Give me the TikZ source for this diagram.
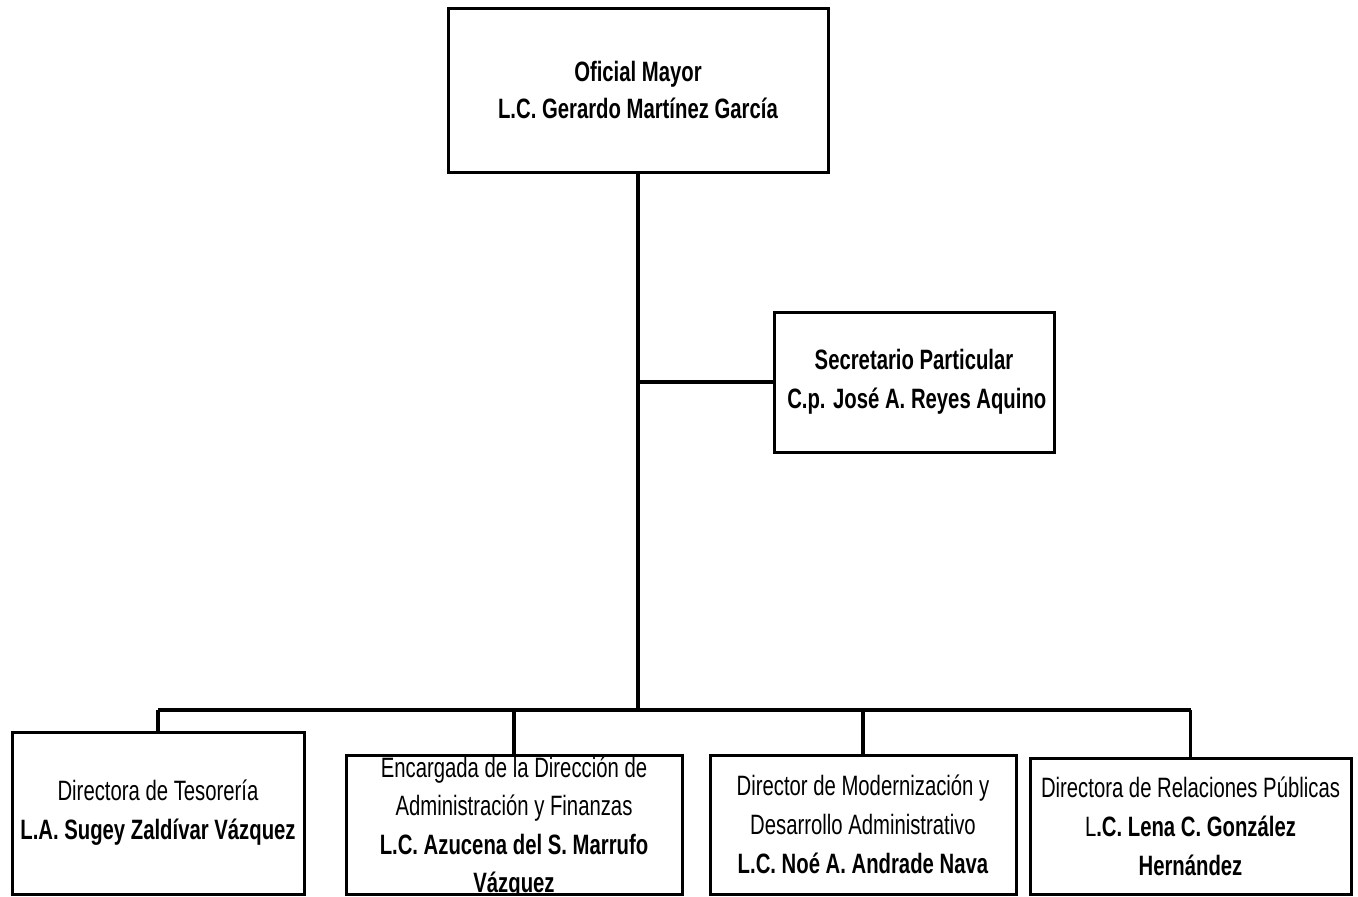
\documentclass[tikz,border=0pt]{standalone}
\usepackage{fontspec}
\setmainfont{Liberation Sans}[FakeStretch=0.725]
\tikzset{
	cargo/.style={rectangle,draw=black,line width=3pt,align=center,inner sep=0pt,
		font=\fontsize{28}{39}\selectfont},
	linea/.style={draw=black,line width=3.5pt}
}
\begin{document}
\begin{tikzpicture}[x=1pt,y=-1pt]
	\useasboundingbox (0,0) rectangle (1358,897);
	\begin{scope}[every node/.style={cargo}]
		\node (oficial) at (638,90) [minimum width=380pt,minimum height=164pt]
			{\textbf{Oficial Mayor}\\[-2pt]\textbf{L.C. Gerardo Martínez García}};
		\node (secretario) at (914,382) [minimum width=280pt,minimum height=140pt]
			{\textbf{Secretario Particular}\\ \textbf{\ C.p. José A. Reyes Aquino}};
		\node (tesoreria) at (158,813) [minimum width=292pt,minimum height=162pt]
			{Directora de Tesorería\\ \textbf{L.A. Sugey Zaldívar Vázquez}};
		\node (finanzas) at (514,824.5) [minimum width=336pt,minimum height=139pt] {};
		\node (modernizacion) at (863,824.5) [minimum width=306pt,minimum height=139pt]
			{Director de Modernización y\\ Desarrollo Administrativo\\ \textbf{L.C. Noé A. Andrade Nava}};
		\node (relaciones) at (1190.5,826) [minimum width=321pt,minimum height=136pt]
			{Directora de Relaciones Públicas\\ L\textbf{.C. Lena C. González}\\ \textbf{Hernández}};
	\end{scope}

	% texto recortado por el recuadro
	\begin{scope}
		\clip (finanzas.north west) rectangle (finanzas.south east);
		\node (finanzastexto) at (finanzas.center) [align=center,font=\fontsize{28}{38.5}\selectfont,yshift=-3pt]
			{Encargada de la Dirección de\\ Administración y Finanzas\\ \textbf{L.C. Azucena del S. Marrufo}\\ \textbf{Vázquez}};
	\end{scope}
	\node [cargo,minimum width=336pt,minimum height=139pt] at (finanzas.center) {};

	\coordinate (bus) at (638,710);
	\begin{scope}[every path/.style={linea}]
		\path (oficial.south) edge (bus);
		\path (secretario.west) edge (secretario.west -| oficial.south);
		\path (tesoreria.north) edge (tesoreria.north |- bus);
		\path (tesoreria.north |- bus) edge (relaciones.north |- bus);
		\path (finanzas.north) edge (finanzas.north |- bus);
		\path (modernizacion.north) edge (modernizacion.north |- bus);
		\path (relaciones.north) edge (relaciones.north |- bus);
	\end{scope}
\end{tikzpicture}
\end{document}
